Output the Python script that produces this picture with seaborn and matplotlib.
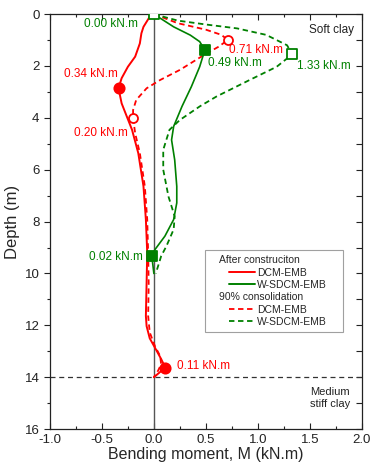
import matplotlib
matplotlib.use("Agg")
import matplotlib.pyplot as plt
from matplotlib.lines import Line2D
from matplotlib.legend_handler import HandlerLine2D
from matplotlib.ticker import MultipleLocator, FormatStrFormatter
import seaborn as sns
import pandas as pd

sns.set_theme(style="white")
plt.rcParams["font.family"] = ["Liberation Sans", "DejaVu Sans"]
plt.rcParams["axes.unicode_minus"] = False

# Bending moment profiles along the column (M in kN.m, depth in m)
dcm_after_depth = [0, 0.1, 0.49, 0.74, 1.13, 1.64, 2.03, 2.47, 2.86, 3.44, 3.95, 4.46,
                   5.36, 6.64, 7.92, 9.2, 10.36, 11.64, 12.03, 12.5, 12.86, 13.3, 13.63, 14.0]
dcm_after_m = [0, -0.04, -0.10, -0.12, -0.135, -0.18, -0.25, -0.31, -0.34, -0.31, -0.26, -0.21,
               -0.15, -0.10, -0.077, -0.064, -0.07, -0.077, -0.07, -0.04, 0.01, 0.07, 0.11, 0.0]

dcm_cons_depth = [0, 0.35, 0.6, 0.8, 1.0, 1.26, 1.58, 2.15, 2.54, 2.86, 3.31, 3.7, 4.01,
                  4.59, 5.36, 6.64, 7.92, 9.2, 10.4, 11.64, 12.27, 12.8, 13.18, 13.5, 13.75, 14.0]
dcm_cons_m = [0, 0.23, 0.5, 0.65, 0.71, 0.62, 0.48, 0.25, 0.06, -0.07, -0.17, -0.20, -0.20,
              -0.18, -0.135, -0.087, -0.064, -0.055, -0.05, -0.055, -0.04, 0.01, 0.06, 0.07, 0.04, 0.0]

wsdcm_after_depth = [0, 0.49, 0.81, 1.06, 1.38, 2.03, 2.8, 3.56, 4.33, 4.85, 5.62, 6.64,
                     7.28, 7.92, 8.56, 9.08, 9.33, 10.0]
wsdcm_after_m = [0, 0.19, 0.35, 0.44, 0.49, 0.44, 0.36, 0.27, 0.19, 0.17, 0.20, 0.22,
                 0.22, 0.19, 0.106, 0.01, -0.02, 0.0]

wsdcm_cons_depth = [0, 0.25, 0.4, 0.55, 0.8, 1.2, 1.55, 2.03, 2.54, 3.18, 3.56, 4.08, 4.46,
                    5.23, 6.0, 7.03, 7.8, 8.3, 8.95, 9.33, 9.85, 10.0]
wsdcm_cons_m = [0, 0.23, 0.5, 0.8, 1.08, 1.28, 1.33, 1.18, 0.92, 0.60, 0.44, 0.25, 0.15,
                0.09, 0.09, 0.14, 0.20, 0.19, 0.12, 0.07, 0.03, 0.02]

# Peak values marked on each profile
peak_dcm_after = {"m": [-0.34, 0.11], "depth": [2.86, 13.63]}
peak_dcm_cons = {"m": [0.71, -0.20], "depth": [1.0, 4.01]}
peak_wsdcm_after = {"m": [0.49, -0.02], "depth": [1.38, 9.33]}
peak_wsdcm_cons = {"m": [1.33, 0.00], "depth": [1.55, 0.0]}

RED = "#ff0000"
GREEN = "#008000"
DASH = (0, (3, 2))

fig = plt.figure(figsize=(3.72, 4.71), dpi=100)
ax = fig.add_axes([0.134, 0.089, 0.839, 0.881])

ax.axvline(0, color="#555555", lw=1.0, zorder=1)
ax.axhline(14, color="#333333", lw=0.9, ls=(0, (4, 3)), zorder=1)

profiles = [
    (dcm_after_m, dcm_after_depth, RED, "-", 1.4),
    (dcm_cons_m, dcm_cons_depth, RED, DASH, 1.3),
    (wsdcm_after_m, wsdcm_after_depth, GREEN, "-", 1.2),
    (wsdcm_cons_m, wsdcm_cons_depth, GREEN, DASH, 1.3),
]
for m, d, c, ls, lw in profiles:
    df = pd.DataFrame({"m": m, "depth": d})
    sns.lineplot(data=df, x="m", y="depth", orient="y", sort=False, estimator=None,
                 color=c, linestyle=ls, lw=lw, ax=ax, zorder=3)

markers = [
    (peak_dcm_after, "o", RED, RED, 55),
    (peak_dcm_cons, "o", "white", RED, 42),
    (peak_wsdcm_after, "s", GREEN, GREEN, 48),
    (peak_wsdcm_cons, "s", "white", GREEN, 42),
]
for pk, mk, fc, ec, s in markers:
    sns.scatterplot(x=pk["m"], y=pk["depth"], marker=mk, s=s, color=fc, edgecolor=ec,
                    linewidth=1.3, ax=ax, zorder=4)

# Labels for the peak values
fs = 8.5
ax.text(-0.15, 0.38, "0.00 kN.m", color=GREEN, fontsize=fs, ha="right", va="center")
ax.text(-0.35, 2.3, "0.34 kN.m", color=RED, fontsize=fs, ha="right", va="center")
ax.text(-0.25, 4.57, "0.20 kN.m", color=RED, fontsize=fs, ha="right", va="center")
ax.text(0.72, 1.38, "0.71 kN.m", color=RED, fontsize=fs, ha="left", va="center")
ax.text(0.52, 1.87, "0.49 kN.m", color=GREEN, fontsize=fs, ha="left", va="center")
ax.text(1.375, 2.0, "1.33 kN.m", color=GREEN, fontsize=fs, ha="left", va="center")
ax.text(-0.106, 9.35, "0.02 kN.m", color=GREEN, fontsize=fs, ha="right", va="center")
ax.text(0.22, 13.58, "0.11 kN.m", color=RED, fontsize=fs, ha="left", va="center")

ax.text(1.92, 0.62, "Soft clay", color="#222222", fontsize=8.5, ha="right", va="center")
ax.text(1.885, 14.8, "Medium\nstiff clay", color="#222222", fontsize=8, ha="right",
        va="center", linespacing=1.3)

ax.set_xlim(-1.0, 2.0)
ax.set_ylim(16, 0)
ax.xaxis.set_major_locator(MultipleLocator(0.5))
ax.xaxis.set_minor_locator(MultipleLocator(0.25))
ax.yaxis.set_major_locator(MultipleLocator(2))
ax.yaxis.set_minor_locator(MultipleLocator(1))
ax.xaxis.set_major_formatter(FormatStrFormatter("%.1f"))
ax.tick_params(axis="x", which="both", direction="in", top=True, bottom=True,
               labelsize=9.5, colors="#222222")
ax.tick_params(axis="x", which="major", length=4, width=0.8)
ax.tick_params(axis="x", which="minor", length=2.5, width=0.8)
ax.tick_params(axis="y", which="both", direction="out", left=True, labelsize=9.5,
               colors="#222222")
ax.tick_params(axis="y", which="major", length=4, width=0.8)
ax.tick_params(axis="y", which="minor", length=2.5, width=0.8)

# Inward ticks on the right edge at every metre
ax_r = ax.secondary_yaxis("right")
ax_r.yaxis.set_major_locator(MultipleLocator(1))
ax_r.tick_params(axis="y", direction="in", length=4, width=0.8, labelright=False,
                 colors="#222222")

for sp in ax.spines.values():
    sp.set_color("#222222")
    sp.set_linewidth(0.9)
ax_r.spines["right"].set_visible(False)

ax.set_xlabel("Bending moment, M (kN.m)", fontsize=11.5, labelpad=1)
ax.set_ylabel("Depth (m)", fontsize=12, labelpad=3)

# Legend: group headings sit left of the indented line samples
blank = Line2D([], [], lw=0)
handles = [
    blank,
    Line2D([], [], color=RED, lw=1.4),
    Line2D([], [], color=GREEN, lw=1.4),
    blank,
    Line2D([], [], color=RED, lw=1.3, ls=DASH),
    Line2D([], [], color=GREEN, lw=1.3, ls=DASH),
]
labels = ["After construciton", "DCM-EMB", "W-SDCM-EMB",
          "90% consolidation", "DCM-EMB", "W-SDCM-EMB"]
leg_fs = 7.5
indent = 1.82
leg = ax.legend(handles, labels, loc="upper left",
                bbox_to_anchor=(0.497, 0.234, 0.442, 0.197), mode="expand",
                fontsize=leg_fs, frameon=True, fancybox=False, edgecolor="#888888",
                handlelength=indent + 2.5, handletextpad=0.2, labelspacing=0.22,
                borderpad=0.5, borderaxespad=0,
                handler_map={Line2D: HandlerLine2D(xpad=indent)})
leg.get_frame().set_linewidth(0.8)
rows = leg._legend_handle_box.get_children()[0].get_children()
for i in (0, 3):
    rows[i].get_children()[0].width = 6.5
    rows[i].sep = 0

fig.savefig("out.png", dpi=100)
